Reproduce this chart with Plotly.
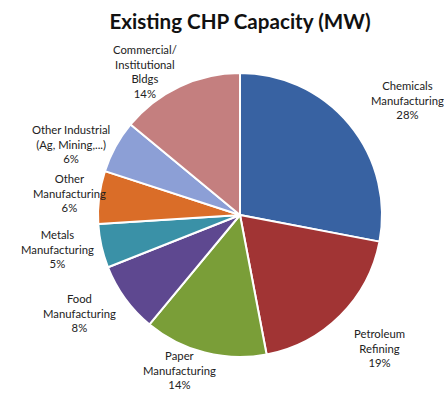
import math
import plotly.graph_objects as go

categories = [
    "Chemicals<br>Manufacturing",
    "Petroleum<br>Refining",
    "Paper<br>Manufacturing",
    "Food<br>Manufacturing",
    "Metals<br>Manufacturing",
    "Other<br>Manufacturing",
    "Other Industrial<br>(Ag, Mining,...)",
    "Commercial/<br>Institutional<br>Bldgs",
]
shares = [28, 19, 14, 8, 5, 6, 6, 14]
colors = ["#3862A2", "#A13434", "#7A9E38", "#5E4890", "#3A91A7", "#DA6D28", "#8C9FD6", "#C47F7F"]

# label placement (layout only): distance from centre in px and angular nudge in degrees
label_dist = [203, 193, 167, 188, 186, 172, 183, 172]
label_nudge = [5, -1.5, 7, 4.5, 2, 0, -6, -8.4]

W, H = 444, 393
cx, cy, r = 240, 215, 142

fig = go.Figure(go.Pie(
    labels=categories,
    values=shares,
    sort=False,
    direction="clockwise",
    rotation=0,
    marker=dict(colors=colors, line=dict(color="white", width=2)),
    textinfo="none",
    showlegend=False,
    hoverinfo="label+value",
    domain=dict(x=[(cx - r) / W, (cx + r) / W], y=[(H - cy - r) / H, (H - cy + r) / H]),
))

total = sum(shares)
cum = 0
for lab, v, d, nudge in zip(categories, shares, label_dist, label_nudge):
    mid = (cum + v / 2) / total * 360 + nudge
    cum += v
    th = math.radians(mid)
    px = cx + d * math.sin(th)
    py = cy - d * math.cos(th)
    fig.add_annotation(
        x=px / W, y=(H - py) / H, xref="paper", yref="paper",
        text=f"{lab}<br>{v}%", showarrow=False,
        xanchor="center", yanchor="middle", align="center",
        font=dict(family="Lato", size=11.3, color="#222222"),
    )

fig.update_layout(
    width=W, height=H,
    margin=dict(l=0, r=0, t=0, b=0),
    paper_bgcolor="white",
    title=dict(text="<b>Existing CHP Capacity (MW)</b>", x=240 / W, xanchor="center", y=1 - 22 / H, yanchor="middle",
               font=dict(family="Lato", size=20.6, color="#111111")),
)

fig.write_html("out.html", config={"displayModeBar": False},
               post_script="document.body.style.margin='0';document.body.style.overflow='hidden';")
